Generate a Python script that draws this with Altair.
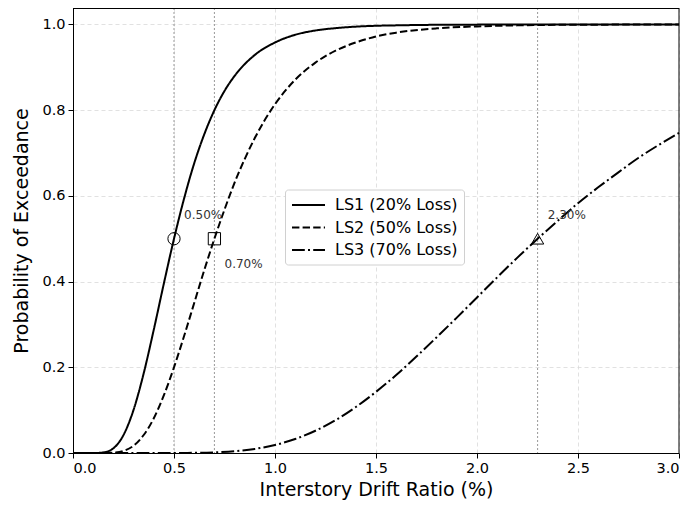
import altair as alt
import pandas as pd

# LS1 (median 0.50 %)
x1 = [0.0, 0.1, 0.15, 0.2, 0.25, 0.3, 0.35, 0.4, 0.45, 0.5, 0.55, 0.6, 0.65, 0.7, 0.75, 0.8,
      0.9, 1.0, 1.1, 1.2, 1.3, 1.4, 1.5, 1.6, 1.8, 2.0, 2.5, 3.0]
ls1 = [0.0, 0.0, 0.0013, 0.011, 0.042, 0.101, 0.186, 0.288, 0.396, 0.5, 0.594, 0.676, 0.744, 0.800,
       0.845, 0.880, 0.929, 0.958, 0.976, 0.986, 0.9915, 0.995, 0.997, 0.998, 0.9993, 0.9997, 1.0, 1.0]
# LS2 (median 0.70 %)
x2 = [0.0, 0.15, 0.2, 0.25, 0.3, 0.35, 0.4, 0.45, 0.5, 0.55, 0.6, 0.65, 0.7, 0.75, 0.8, 0.85, 0.9,
      1.0, 1.1, 1.2, 1.3, 1.4, 1.5, 1.6, 1.8, 2.0, 2.2, 2.5, 3.0]
ls2 = [0.0, 0.0, 0.001, 0.005, 0.017, 0.042, 0.081, 0.135, 0.200, 0.273, 0.350, 0.427, 0.5, 0.568,
       0.631, 0.686, 0.735, 0.814, 0.871, 0.911, 0.939, 0.958, 0.972, 0.981, 0.991, 0.9956, 0.998,
       0.9995, 0.9999]
# LS3 (median 2.30 %)
x3 = [0.0, 0.5, 0.6, 0.7, 0.8, 0.9, 1.0, 1.1, 1.2, 1.3, 1.4, 1.5, 1.6, 1.7, 1.8, 1.9, 2.0, 2.1,
      2.2, 2.3, 2.4, 2.5, 2.6, 2.7, 2.8, 2.9, 3.0]
ls3 = [0.0, 0.0001, 0.0004, 0.0015, 0.0041, 0.0095, 0.0187, 0.0326, 0.0519, 0.0768, 0.1073, 0.1427,
       0.182, 0.225, 0.270, 0.316, 0.363, 0.410, 0.456, 0.5, 0.542, 0.583, 0.620, 0.655, 0.689,
       0.719, 0.747]

series_names = ["LS1 (20% Loss)", "LS2 (50% Loss)", "LS3 (70% Loss)"]
medians = [0.5, 0.7, 2.3]
median_prob = [0.5, 0.5, 0.5]
marker_shapes = ["circle", "square", "triangle-up"]
label_texts = ["0.50%", "0.70%", "2.30%"]
label_x = [0.55, 0.75, 2.35]
label_y = [0.555, 0.44, 0.555]

W, H = 606, 445

rows = []
for name, xs, ys in zip(series_names, [x1, x2, x3], [ls1, ls2, ls3]):
    for i, (a, b) in enumerate(zip(xs, ys)):
        rows.append({"series": name, "x": a, "p": b, "order": i})
curves = pd.DataFrame(rows)
meds = pd.DataFrame({"x": medians, "p": median_prob, "shape": marker_shapes})
labels = pd.DataFrame({"x": label_x, "p": label_y, "text": label_texts})
frame = pd.DataFrame({"k": [0]})

xscale = alt.Scale(domain=[0, 3], nice=False, zero=False)
yscale = alt.Scale(domain=[0, 1.0385], nice=False, zero=False)

xaxis = alt.Axis(values=[0, 0.5, 1.0, 1.5, 2.0, 2.5, 3.0], format=".1f",
                 title="Interstory Drift Ratio (%)")
yaxis = alt.Axis(values=[0, 0.2, 0.4, 0.6, 0.8, 1.0], format=".1f",
                 title="Probability of Exceedance")

vlines = alt.Chart(meds).mark_rule(color="#999999", strokeWidth=1, strokeDash=[2, 2]).encode(
    x=alt.X("x:Q", scale=xscale, axis=xaxis),
)

lines = alt.Chart(curves).mark_line(color="black", strokeWidth=2, interpolate="monotone",
                                    strokeCap="butt").encode(
    x=alt.X("x:Q", scale=xscale, axis=xaxis),
    y=alt.Y("p:Q", scale=yscale, axis=yaxis),
    order="order:Q",
    strokeDash=alt.StrokeDash(
        "series:N",
        scale=alt.Scale(domain=series_names,
                        range=[[1, 0], [7.4, 3.2], [12.8, 3.2, 2, 3.2]]),
        legend=alt.Legend(title=None, orient="none", legendX=212, legendY=181.5,
                          symbolType="M-2,0H2", symbolSize=272, symbolStrokeWidth=2,
                          symbolStrokeColor="black", symbolOffset=8,
                          labelFontSize=16, labelColor="black",
                          labelFont="DejaVu Sans", fillColor="white", strokeColor="#d0d0d0",
                          padding=6, cornerRadius=3, rowPadding=4.5, labelOffset=17),
    ),
)

markers = alt.Chart(meds).mark_point(filled=False, color="black", strokeWidth=1, size=150,
                                     opacity=1).encode(
    x=alt.X("x:Q", scale=xscale),
    y=alt.Y("p:Q", scale=yscale),
    shape=alt.Shape("shape:N", scale=None),
)

texts = alt.Chart(labels).mark_text(align="left", baseline="middle", fontSize=12,
                                    color="#333333", font="DejaVu Sans").encode(
    x=alt.X("x:Q", scale=xscale),
    y=alt.Y("p:Q", scale=yscale),
    text="text:N",
)

# top and right edges of the axes box
top_edge = alt.Chart(frame).mark_rule(color="black", strokeWidth=1).encode(
    x=alt.value(0), x2=alt.value(W), y=alt.value(0.5)
)
right_edge = alt.Chart(frame).mark_rule(color="black", strokeWidth=1).encode(
    x=alt.value(W), y=alt.value(0), y2=alt.value(H)
)

chart = alt.layer(vlines, lines, markers, texts, top_edge, right_edge).properties(
    width=W, height=H,
    autosize=alt.AutoSizeParams(type="none"),
    padding={"left": 65, "top": 0, "right": 4, "bottom": 50},
).configure_view(stroke=None).configure_axis(
    domain=True, domainColor="black", domainWidth=1,
    grid=True, gridColor="#d9d9d9", gridDash=[4, 3], gridWidth=0.8,
    tickColor="black", tickSize=5, labelFontSize=14.5, labelColor="black", labelFont="DejaVu Sans",
    titleFont="DejaVu Sans", titleFontSize=19, titleFontWeight="normal", titleColor="black",
    labelPadding=3,
).configure_axisX(titlePadding=6).configure_axisY(titlePadding=10)

chart.save("out.html", embed_options={"renderer": "svg", "actions": False})
